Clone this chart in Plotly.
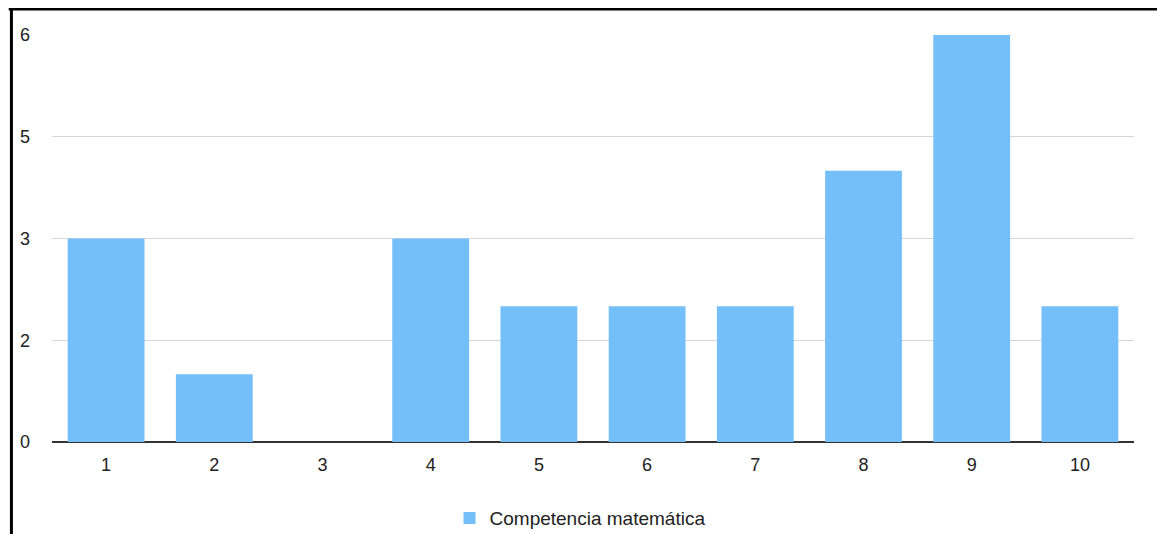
# -*- coding: utf-8 -*-
import plotly.graph_objects as go

categories = ["1", "2", "3", "4", "5", "6", "7", "8", "9", "10"]
values = [3, 1, 0, 3, 2, 2, 2, 4, 6, 2]
series_name = "Competencia matemática"
tick_values = [0, 1.5, 3, 4.5, 6]
tick_labels = ["0", "2", "3", "5", "6"]

BAR_COLOR = "#74BFF9"

figure = go.Figure()
figure.add_trace(go.Bar(x=categories,
                        y=values,
                        name=series_name,
                        marker={"color": BAR_COLOR, "line": {"width": 0}},
                        showlegend=True))

# the page body adds 8px around the figure, so the size is trimmed to fit
figure.update_layout(width=1157,
                     height=526,
                     margin={"l": 42, "r": 31, "t": 27, "b": 92},
                     paper_bgcolor="white",
                     plot_bgcolor="white",
                     bargap=0.29,
                     font={"family": "Liberation Sans, Arial, sans-serif",
                           "size": 18,
                           "color": "#222222"},
                     # container reference keeps the legend from pushing the margins
                     legend={"orientation": "h",
                             "xref": "paper",
                             "x": 0.488,
                             "xanchor": "center",
                             "yref": "container",
                             "y": 0.03,
                             "yanchor": "middle",
                             "font": {"size": 19}},
                     showlegend=True)

figure.update_xaxes(type="category",
                    showgrid=False,
                    showline=False,
                    ticks="",
                    ticklabelstandoff=10)
figure.update_yaxes(range=[0, 6],
                    tickvals=tick_values,
                    ticktext=tick_labels,
                    showgrid=True,
                    gridcolor="#d6d6d6",
                    gridwidth=1,
                    zeroline=True,
                    zerolinecolor="#333333",
                    zerolinewidth=2,
                    showline=False,
                    ticks="",
                    ticklabelstandoff=21)

# black frame on top and left edges
figure.add_shape(type="line", xref="paper", yref="paper",
                 x0=-0.04, x1=1.03, y0=1.064, y1=1.064,
                 line={"color": "black", "width": 3})
figure.add_shape(type="line", xref="paper", yref="paper",
                 x0=-0.0375, x1=-0.0375, y0=1.064, y1=-0.23,
                 line={"color": "black", "width": 3})

figure.write_html("out.html")
